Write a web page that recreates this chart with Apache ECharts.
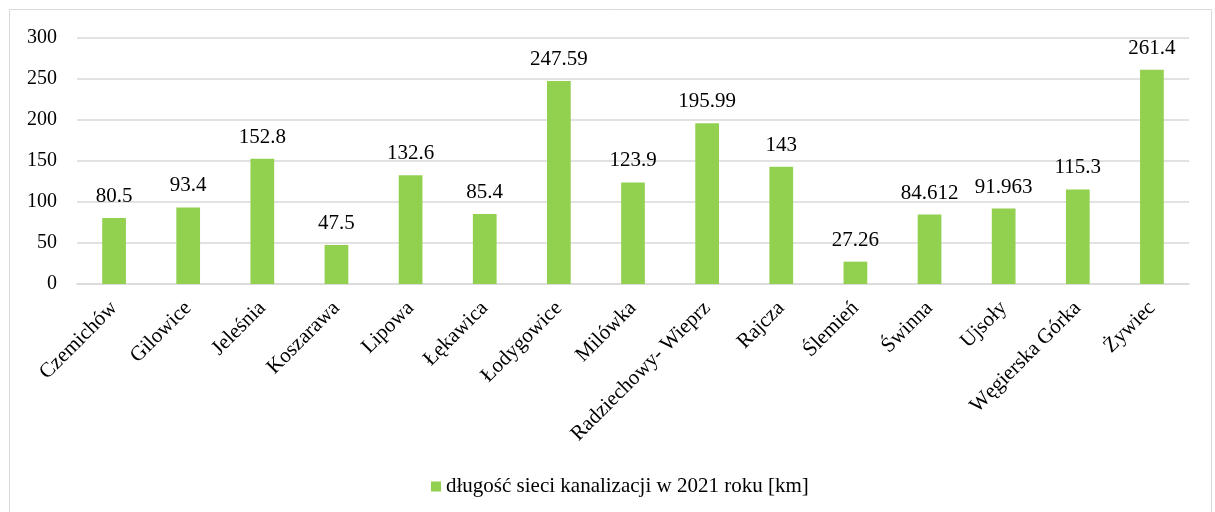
<!DOCTYPE html>
<html>
<head>
<meta charset="utf-8">
<script src="https://cdn.jsdelivr.net/npm/echarts@6/dist/echarts.min.js"></script>
<style>
  html, body { margin: 0; padding: 0; background: #fff; }
  #chart { width: 1215px; height: 512px; }
</style>
</head>
<body>
<div id="chart"></div>
<script>
// gminy
const categories = ['Czemichów', 'Gilowice', 'Jeleśnia', 'Koszarawa', 'Lipowa', 'Łękawica', 'Łodygowice',
  'Milówka', 'Radziechowy- Wieprz', 'Rajcza', 'Ślemień', 'Świnna', 'Ujsoły', 'Węgierska Górka', 'Żywiec']
// długość sieci [km]
const values = [80.5, 93.4, 152.8, 47.5, 132.6, 85.4, 247.59, 123.9, 195.99, 143, 27.26, 84.612, 91.963, 115.3, 261.4]
const seriesName = 'długość sieci kanalizacji w 2021 roku [km]'
const yTicks = { min: 0, max: 300, interval: 50 }

const font = '"Liberation Serif", "Times New Roman", serif'
const chart = echarts.init(document.getElementById('chart'))

chart.setOption({
  animation: false,
  textStyle: { fontFamily: font },
  graphic: [
    {
      type: 'rect',
      shape: { x: 9.5, y: 9.5, width: 1202, height: 520 },
      style: { fill: 'none', stroke: '#d9d9d9', lineWidth: 1 }
    }
  ],
  grid: {
    left: 77,
    right: 26,
    top: 38,
    bottom: 228
  },
  xAxis: {
    type: 'category',
    data: categories,
    axisLine: { lineStyle: { color: '#d9d9d9', width: 1.5 } },
    axisTick: { show: false },
    axisLabel: {
      rotate: 45,
      interval: 0,
      margin: 21,
      color: '#000',
      fontFamily: font,
      fontSize: 21
    }
  },
  yAxis: {
    type: 'value',
    min: yTicks.min,
    max: yTicks.max,
    interval: yTicks.interval,
    axisLine: { show: false },
    axisTick: { show: false },
    splitLine: { lineStyle: { color: '#d9d9d9', width: 1.5 } },
    axisLabel: {
      margin: 20,
      color: '#000',
      fontFamily: font,
      fontSize: 20
    }
  },
  legend: {
    bottom: 10,
    left: 426,
    icon: 'rect',
    itemWidth: 10,
    itemHeight: 10,
    itemGap: 5,
    textStyle: { color: '#000', fontFamily: font, fontSize: 21 },
    data: [seriesName]
  },
  series: [
    {
      name: seriesName,
      type: 'bar',
      data: values,
      barWidth: '32%',
      itemStyle: { color: '#92d050' },
      label: {
        show: true,
        position: 'top',
        distance: 11,
        color: '#000',
        fontFamily: font,
        fontSize: 21
      }
    }
  ]
})
</script>
</body>
</html>
